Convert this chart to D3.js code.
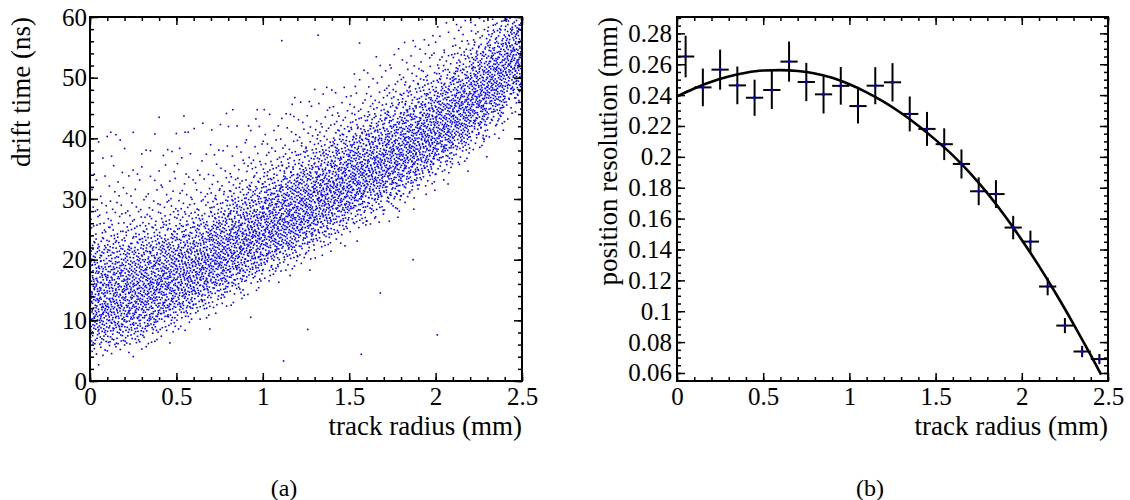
<!DOCTYPE html>
<html><head><meta charset="utf-8">
<script src="https://cdn.jsdelivr.net/npm/d3@7"></script>
<style>
body{margin:0;background:#fff;}
svg{display:block;}
text{font-family:"Liberation Serif","Times New Roman",serif;fill:#000;}
</style></head><body>
<svg id="c" width="1130" height="500"></svg>
<script>
// ---------------- data ----------------
// (a) drift time vs track radius: counts of points per cell,
// cells are 0.1 mm (x) by 2 ns (y); each row = one x cell: [first y-cell index, counts...]
const xCellWidth = 0.1;
const yCellWidth = 2;
const scatterRows = [
  [1, 1,6,18,28,32,32,30,28,24,18,12,8,6,4,2,2,1,1,1,1],
  [2, 5,16,26,30,32,30,28,25,20,14,9,6,4,3,2,2,1,1,1],
  [2, 4,14,24,30,32,32,30,26,22,15,10,6,4,3,2,2,1,1,1],
  [2, 1,7,20,28,32,33,32,29,24,18,12,7,5,3,2,2,1,1,1],
  [3, 2,10,22,30,33,33,31,27,21,15,9,6,4,3,2,2,1,1,1],
  [4, 4,14,26,32,34,33,30,24,17,11,7,4,3,2,2,1,1,1],
  [4, 1,6,18,28,33,34,32,27,20,13,8,5,3,2,2,1,1,1],
  [5, 1,8,20,29,34,34,32,27,20,13,8,5,3,2,2,1,1],
  [6, 3,10,22,31,34,34,31,26,19,12,7,4,3,2,1,1,1],
  [7, 3,12,24,32,35,34,31,25,18,11,7,4,3,2,1,1],
  [8, 5,15,26,33,35,34,30,24,16,10,6,4,2,2,1],
  [8, 1,7,18,28,34,35,33,29,22,15,9,5,3,2,1,1],
  [9, 2,9,20,30,35,35,32,27,20,13,8,5,3,2,1],
  [10, 3,11,22,31,35,35,32,26,19,12,7,4,3,2,1],
  [11, 3,11,23,32,35,34,31,25,18,11,7,4,2,1],
  [11, 1,4,13,25,33,35,34,30,24,17,10,6,3,2,1],
  [12, 1,6,16,27,34,35,33,29,22,15,9,5,3,2,1],
  [13, 2,8,19,29,34,35,33,28,21,14,8,5,3,2,1],
  [14, 2,9,20,30,35,35,32,27,20,13,8,5,3,2,1],
  [15, 2,9,21,31,35,35,32,26,19,12,7,4,3,2,1],
  [16, 2,9,21,31,35,35,31,25,18,11,7,4,2,2],
  [17, 2,8,20,30,35,35,32,26,19,12,7,4,3],
  [18, 1,6,17,28,34,35,33,28,21,14,8,5],
  [20, 4,13,25,33,35,34,30,23,16,10],
  [21, 1,6,17,28,34,35,32,26,19]
];
// isolated points outside the band (radius mm, time ns)
const scatterOutliers = [
  [1.11,56.1],[1.17,45.6],[1.18,43.6],[0.79,44.1],[0.96,43.2],[0.12,41],[0.55,41],
  [1.32,57],[1.56,55.7],[1.68,52],[1.53,50.6],[1.37,48.4],[1.79,28],[1.87,20],
  [1.68,14.5],[2.28,39.5],[1.26,8.5],[2.01,7.6],[1.57,4.4],[1.12,3.3],[0.93,10.5]
];

// (b) position resolution vs track radius
const resX    = [0.05,0.15,0.25,0.35,0.45,0.55,0.65,0.75,0.85,0.95,1.05,1.15,1.25,1.35,1.45,1.55,1.65,1.75,1.85,1.95,2.05,2.15,2.25,2.35,2.45];
const resY    = [0.265,0.245,0.2565,0.2463,0.2383,0.2433,0.2617,0.2485,0.2405,0.246,0.2329,0.2461,0.2483,0.2278,0.2181,0.2082,0.1954,0.1777,0.1759,0.1542,0.1451,0.116,0.0907,0.0739,0.069];
const resYErr = [0.0135,0.0122,0.013,0.0122,0.0117,0.0123,0.013,0.0124,0.0124,0.0122,0.0113,0.012,0.0124,0.0113,0.011,0.0103,0.0094,0.009,0.009,0.0076,0.0071,0.0057,0.0049,0.0037,0.0033];
const resXErr = 0.05;
// fitted curve
const fitX = [0,0.1,0.2,0.3,0.4,0.5,0.6,0.7,0.8,0.9,1.0,1.1,1.2,1.3,1.4,1.5,1.6,1.7,1.8,1.9,2.0,2.1,2.2,2.3,2.4,2.46];
const fitY = [0.2392,0.2443,0.2487,0.252,0.2545,0.2559,0.2562,0.2556,0.254,0.2512,0.247,0.2418,0.2356,0.2284,0.2202,0.211,0.201,0.1895,0.1765,0.162,0.1462,0.1292,0.111,0.0917,0.0715,0.059];

// tick labels
const xTickValues = [0,0.5,1,1.5,2,2.5];
const xTickLabels = ["0","0.5","1","1.5","2","2.5"];
const leftYTickValues = [0,10,20,30,40,50,60];
const rightYTickValues = [0.06,0.08,0.1,0.12,0.14,0.16,0.18,0.2,0.22,0.24,0.26,0.28];
const rightYTickLabels = ["0.06","0.08","0.1","0.12","0.14","0.16","0.18","0.2","0.22","0.24","0.26","0.28"];

// ---------------- drawing ----------------
const svg = d3.select("#c");
const L = {x0:90, x1:522, y0:17, y1:381};
const R = {x0:677, x1:1108, y0:17, y1:381};
const xL = d3.scaleLinear().domain([0,2.5]).range([L.x0,L.x1]);
const yL = d3.scaleLinear().domain([0,60]).range([L.y1,L.y0]);
const xR = d3.scaleLinear().domain([0,2.5]).range([R.x0,R.x1]);
const yR = d3.scaleLinear().domain([0.0548,0.2906]).range([R.y1,R.y0]);

const defs = svg.append("defs");
defs.append("clipPath").attr("id","clipL").append("rect")
  .attr("x",L.x0).attr("y",L.y0).attr("width",L.x1-L.x0).attr("height",L.y1-L.y0);
defs.append("clipPath").attr("id","clipR").append("rect")
  .attr("x",R.x0).attr("y",R.y0).attr("width",R.x1-R.x0).attr("height",R.y1-R.y0);

// scatter: dot-density layout of the counted cells (Halton positions inside each cell)
function halton(i, b) { let f = 1, r = 0; while (i > 0) { f /= b; r += f * (i % b); i = Math.floor(i / b); } return r; }
const dots = [];
let k = 0;
scatterRows.forEach((row, i) => {
  const cx = i * xCellWidth;
  const start = row[0];
  row.slice(1).forEach((n, j) => {
    const cy = (start + j) * yCellWidth;
    for (let m = 0; m < n; m++) {
      k++;
      dots.push([cx + halton(k, 2) * xCellWidth, cy + halton(k, 3) * yCellWidth]);
    }
  });
});
scatterOutliers.forEach(p => dots.push(p));

svg.append("g").attr("clip-path","url(#clipL)")
  .selectAll("rect").data(dots).join("rect")
  .attr("x", d => xL(d[0]) - 0.8).attr("y", d => yL(d[1]) - 0.8)
  .attr("width",1.6).attr("height",1.6).attr("fill","#0000ff");

// axes helper
function drawAxes(box, x, y, yTicks, yLabels, yMinorStep, yMinorDomain, yPad) {
  const g = svg.append("g");
  const xMinor = d3.range(0, 2.5001, 0.1);
  const yMinor = d3.range(yMinorDomain[0], yMinorDomain[1] + 1e-9, yMinorStep);
  const major = 8, minor = 4;
  const style = sel => { sel.select(".domain").remove(); sel.selectAll("line").attr("stroke","#000").attr("stroke-width",1.5); sel.selectAll("text").attr("font-size",25).attr("font-family",'"Liberation Serif",serif'); };
  g.append("g").attr("transform",`translate(0,${box.y1})`)
    .call(d3.axisBottom(x).tickValues(xTickValues).tickSize(-major).tickPadding(6)
      .tickFormat((d,i) => xTickLabels[i])).call(style);
  g.append("g").attr("transform",`translate(0,${box.y1})`)
    .call(d3.axisBottom(x).tickValues(xMinor).tickSize(-minor).tickFormat("")).call(style);
  g.append("g").attr("transform",`translate(0,${box.y0})`)
    .call(d3.axisTop(x).tickValues(xTickValues).tickSize(-major).tickFormat("")).call(style);
  g.append("g").attr("transform",`translate(0,${box.y0})`)
    .call(d3.axisTop(x).tickValues(xMinor).tickSize(-minor).tickFormat("")).call(style);
  g.append("g").attr("transform",`translate(${box.x0},0)`)
    .call(d3.axisLeft(y).tickValues(yTicks).tickSize(-major).tickPadding(yPad)
      .tickFormat((d,i) => yLabels[i])).call(style);
  g.append("g").attr("transform",`translate(${box.x0},0)`)
    .call(d3.axisLeft(y).tickValues(yMinor).tickSize(-minor).tickFormat("")).call(style);
  g.append("g").attr("transform",`translate(${box.x1},0)`)
    .call(d3.axisRight(y).tickValues(yTicks).tickSize(-major).tickFormat("")).call(style);
  g.append("g").attr("transform",`translate(${box.x1},0)`)
    .call(d3.axisRight(y).tickValues(yMinor).tickSize(-minor).tickFormat("")).call(style);
  g.append("rect").attr("x",box.x0).attr("y",box.y0)
    .attr("width",box.x1-box.x0).attr("height",box.y1-box.y0)
    .attr("fill","none").attr("stroke","#000").attr("stroke-width",2);
}

drawAxes(L, xL, yL, leftYTickValues, leftYTickValues.map(String), 2, [0,60], 3);

// (b) fit curve
const fitPts = fitX.map((x,i) => [x, fitY[i]]);
svg.append("path").datum(fitPts)
  .attr("clip-path","url(#clipR)")
  .attr("d", d3.line().x(d => xR(d[0])).y(d => yR(d[1])).curve(d3.curveMonotoneX))
  .attr("fill","none").attr("stroke","#000").attr("stroke-width",2.6);

// (b) error bars
const pts = resX.map((x,i) => ({x, y:resY[i], e:resYErr[i]}));
const eb = svg.append("g").attr("stroke","#000").attr("stroke-width",2);
eb.selectAll("line.v").data(pts).join("line").attr("class","v")
  .attr("x1",d=>xR(d.x)).attr("x2",d=>xR(d.x))
  .attr("y1",d=>yR(d.y-d.e)).attr("y2",d=>yR(d.y+d.e));
eb.selectAll("line.h").data(pts).join("line").attr("class","h")
  .attr("x1",d=>xR(d.x-resXErr)).attr("x2",d=>xR(d.x+resXErr))
  .attr("y1",d=>yR(d.y)).attr("y2",d=>yR(d.y));
svg.append("g").selectAll("rect").data(pts).join("rect")
  .attr("x",d=>xR(d.x)-1.3).attr("y",d=>yR(d.y)-1.3)
  .attr("width",2.6).attr("height",2.6).attr("fill","#0000ff");

drawAxes(R, xR, yR, rightYTickValues, rightYTickLabels, 0.005, [0.055,0.29], 5);

// titles
const titleSize = 27;
svg.append("text").attr("x",L.x1).attr("y",435).attr("text-anchor","end")
  .attr("font-size",titleSize).text("track radius (mm)");
svg.append("text").attr("x",R.x1).attr("y",435).attr("text-anchor","end")
  .attr("font-size",titleSize).text("track radius (mm)");
svg.append("text").attr("transform",`translate(30,${L.y0}) rotate(-90)`)
  .attr("text-anchor","end").attr("font-size",titleSize).text("drift time (ns)");
svg.append("text").attr("transform",`translate(617,${R.y0}) rotate(-90)`)
  .attr("text-anchor","end").attr("font-size",titleSize).text("position resolution (mm)");
svg.append("text").attr("x",284).attr("y",496).attr("text-anchor","middle")
  .attr("font-size",24).text("(a)");
svg.append("text").attr("x",870).attr("y",496).attr("text-anchor","middle")
  .attr("font-size",24).text("(b)");
</script>
</body></html>
